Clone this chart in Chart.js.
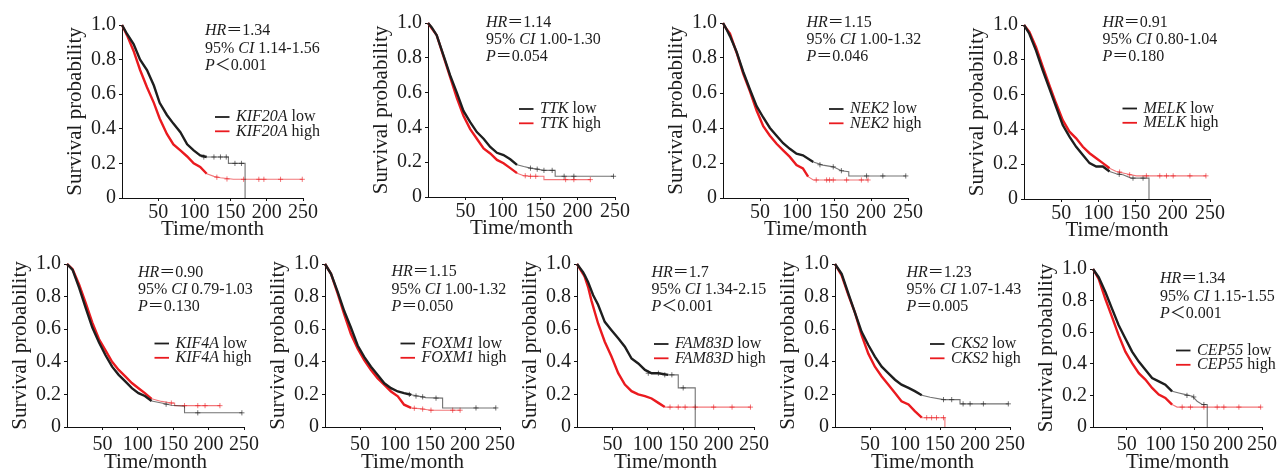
<!DOCTYPE html>
<html>
<head>
<meta charset="utf-8">
<script src="https://cdn.jsdelivr.net/npm/chart.js@4.4.1/dist/chart.umd.min.js"></script>
<style>
  html, body { margin: 0; padding: 0; background: #fff; }
  body { width: 1284px; height: 473px; position: relative; overflow: hidden; }
  canvas { position: absolute; }
</style>
</head>
<body>
<script>
// Kaplan-Meier panels, low vs high expression
const genes = ['KIF20A', 'TTK', 'NEK2', 'MELK', 'KIF4A', 'FOXM1', 'FAM83D', 'CKS2', 'CEP55'];
const hrVals = ['1.34', '1.14', '1.15', '0.91', '0.90', '1.15', '1.7', '1.23', '1.34'];
const ciVals = ['1.14-1.56', '1.00-1.30', '1.00-1.32', '0.80-1.04', '0.79-1.03', '1.00-1.32', '1.34-2.15', '1.07-1.43', '1.15-1.55'];
const pVals = ['＜0.001', '＝0.054', '＝0.046', '＝0.180', '＝0.130', '＝0.050', '＜0.001', '＝0.005', '＜0.001'];

const xTicks = [50, 100, 150, 200, 250];
const yTicks = [0, 0.2, 0.4, 0.6, 0.8, 1.0];
const yTickLabels = ['0', '0.2', '0.4', '0.6', '0.8', '1.0'];

// [month, survival]
const KIF20A_low = [[0,1],[7,0.948],[16,0.89],[25,0.80],[34.5,0.74],[44,0.65],[52,0.55],[62,0.48],[71,0.43],[80.6,0.38],[90,0.31],[99,0.275],[108,0.246],[117,0.237],[147,0.237],[147,0.20],[170,0.20],[170,0]];
const KIF20A_high = [[0,1],[7,0.94],[16,0.85],[25,0.74],[34.5,0.64],[44,0.55],[52,0.46],[62,0.37],[71,0.31],[80.6,0.275],[90,0.24],[99,0.20],[108,0.18],[117,0.14],[127,0.125],[136,0.117],[154,0.108],[249,0.108]];
const KIF20A_low_c = [[113,0.237],[127,0.237],[136,0.237],[144,0.237],[156,0.20],[165,0.20]];
const KIF20A_high_c = [[131,0.12],[145,0.11],[168,0.108],[189,0.108],[196,0.108],[219,0.108],[249,0.108]];

const TTK_low = [[0,1],[5,0.975],[11.6,0.93],[20.6,0.815],[29.5,0.70],[38.5,0.60],[47.4,0.495],[56.4,0.43],[65.3,0.373],[74.3,0.335],[83.2,0.288],[92.2,0.254],[101,0.241],[110,0.217],[119,0.185],[128,0.175],[137,0.166],[146,0.16],[155,0.153],[170,0.153],[170,0.119],[248,0.119]];
const TTK_high = [[0,1],[5,0.97],[11.6,0.93],[20.6,0.81],[29.5,0.69],[38.5,0.57],[47.4,0.467],[56.4,0.39],[65.3,0.335],[74.3,0.279],[83.2,0.25],[92.2,0.213],[101,0.194],[110,0.166],[119,0.137],[128,0.122],[137,0.119],[155,0.119],[155,0.10],[217,0.10]];
const TTK_low_c = [[137,0.166],[146,0.16],[155,0.153],[166,0.153],[182,0.119],[195,0.119],[248,0.119]];
const TTK_high_c = [[130,0.122],[137,0.119],[144,0.119],[184,0.10],[195,0.10],[217,0.10]];

const NEK2_low = [[0,1],[4,0.97],[9.4,0.925],[18.4,0.835],[27.4,0.72],[36.4,0.62],[45.4,0.525],[54.4,0.46],[63.4,0.40],[72.4,0.356],[81.3,0.313],[90.3,0.281],[99.3,0.253],[108,0.244],[122,0.206],[135,0.188],[149,0.178],[160,0.156],[170,0.15],[170,0.126],[247,0.126]];
const NEK2_high = [[0,1],[4,0.97],[9.4,0.94],[18.4,0.83],[27.4,0.71],[36.4,0.61],[45.4,0.50],[54.4,0.41],[63.4,0.356],[72.4,0.31],[81.3,0.272],[90.3,0.235],[99.3,0.188],[108,0.169],[115,0.122],[122,0.103],[196,0.103]];
const NEK2_low_c = [[131,0.19],[149,0.178],[160,0.156],[194,0.126],[216,0.126],[247,0.126]];
const NEK2_high_c = [[126,0.103],[140,0.103],[144,0.103],[149,0.103],[167,0.103],[187,0.103],[196,0.103]];

const MELK_low = [[0,1],[7.2,0.95],[16.2,0.853],[25.2,0.74],[34.2,0.634],[43.1,0.53],[52.1,0.425],[61.1,0.358],[70.1,0.30],[79.1,0.253],[88.1,0.206],[97.1,0.187],[106,0.187],[115,0.158],[124,0.145],[133,0.139],[144,0.12],[168,0.12],[168,0]];
const MELK_high = [[0,1],[7.2,0.96],[16.2,0.872],[25.2,0.76],[34.2,0.653],[43.1,0.55],[52.1,0.453],[61.1,0.387],[70.1,0.349],[79.1,0.30],[88.1,0.263],[97.1,0.234],[106,0.206],[115,0.177],[124,0.158],[133,0.149],[144,0.139],[151,0.133],[244.5,0.133]];
const MELK_low_c = [[128,0.142],[146.5,0.12],[160,0.12]];
const MELK_high_c = [[128.5,0.155],[142,0.139],[164.5,0.133],[182.5,0.133],[191.5,0.133],[200.5,0.133],[223,0.133],[244.5,0.133]];

const KIF4A_low = [[0,1],[7.9,0.964],[17.2,0.853],[26.5,0.73],[35.8,0.61],[45.1,0.52],[54.4,0.44],[63.7,0.37],[73,0.32],[82.3,0.28],[91.6,0.238],[101,0.208],[110,0.19],[119.5,0.16],[133.5,0.147],[147.4,0.133],[166,0.127],[166,0.087],[247,0.087]];
const KIF4A_high = [[0,1],[7.9,0.968],[17.2,0.873],[26.5,0.76],[35.8,0.64],[45.1,0.54],[54.4,0.47],[63.7,0.40],[73,0.35],[82.3,0.31],[91.6,0.27],[101,0.238],[110,0.208],[119.5,0.173],[133.5,0.157],[147.4,0.147],[152,0.147],[152,0.131],[216,0.131]];
const KIF4A_low_c = [[140,0.14],[184.7,0.087],[247,0.087]];
const KIF4A_high_c = [[147.4,0.147],[166,0.131],[184.7,0.131],[195,0.131],[216,0.131]];

const FOXM1_low = [[0,1],[8.6,0.94],[18,0.83],[27.6,0.71],[37,0.61],[46.7,0.50],[56,0.43],[65.7,0.37],[75,0.32],[84.8,0.268],[94.3,0.238],[104,0.218],[113,0.208],[123,0.198],[135,0.188],[144,0.18],[168,0.177],[168,0.117],[244,0.117]];
const FOXM1_high = [[0,1],[8.6,0.94],[18,0.82],[27.6,0.69],[37,0.57],[46.7,0.48],[56,0.41],[65.7,0.35],[75,0.30],[84.8,0.258],[94.3,0.218],[104,0.188],[113,0.137],[123,0.117],[135,0.113],[144,0.107],[151,0.103],[193,0.103]];
const FOXM1_low_c = [[120.5,0.2],[130,0.19],[139.5,0.185],[158.6,0.177],[215.7,0.117],[244,0.117]];
const FOXM1_high_c = [[127.6,0.115],[139.5,0.11],[151.4,0.103],[182.4,0.103],[193,0.103]];

const FAM83D_low = [[0,1],[8.5,0.95],[11,0.93],[15.6,0.89],[22.7,0.81],[29.8,0.75],[39.2,0.645],[48.7,0.594],[58.2,0.544],[67.6,0.493],[77,0.42],[86.5,0.39],[96,0.35],[105.4,0.33],[114.9,0.33],[129,0.32],[143,0.32],[143,0.24],[167,0.24],[167,0]];
const FAM83D_high = [[0,1],[8.5,0.94],[11,0.92],[15.6,0.86],[20.3,0.777],[29.8,0.635],[39.2,0.523],[48.7,0.432],[58.2,0.33],[67.6,0.26],[77,0.22],[86.5,0.20],[96,0.19],[105.4,0.175],[114.9,0.148],[124,0.122],[245,0.122]];
const FAM83D_low_c = [[100.7,0.33],[115,0.33],[124,0.32],[134,0.32],[150,0.24]];
const FAM83D_high_c = [[131.4,0.122],[143,0.122],[152.7,0.122],[167,0.122],[193,0.122],[219,0.122],[245,0.122]];

const CKS2_low = [[0,1],[9.5,0.94],[19,0.82],[28.6,0.70],[38,0.584],[47.6,0.503],[57,0.432],[66.7,0.37],[76,0.33],[85.7,0.29],[95,0.26],[105,0.24],[114,0.22],[124,0.195],[136,0.183],[155,0.168],[178.6,0.168],[178.6,0.142],[247.6,0.142]];
const CKS2_high = [[0,1],[9.5,0.93],[19,0.81],[28.6,0.70],[38,0.564],[47.6,0.45],[57,0.37],[66.7,0.31],[76,0.26],[85.7,0.209],[95,0.158],[105,0.138],[114,0.097],[124,0.057],[157,0.057],[157,0]];
const CKS2_low_c = [[155,0.168],[166.7,0.168],[183,0.142],[193,0.142],[212,0.142],[247.6,0.142]];
const CKS2_high_c = [[131,0.057],[138,0.057],[145,0.057],[155,0.057]];

const CEP55_low = [[0,1],[8.4,0.948],[18.3,0.854],[28.1,0.749],[38,0.644],[47.9,0.56],[57.8,0.477],[67.7,0.414],[77.5,0.362],[87.4,0.31],[97.3,0.289],[107,0.268],[117,0.226],[127,0.215],[137,0.205],[147,0.195],[154,0.163],[161.5,0.142],[169,0.142],[169,0]];
const CEP55_high = [[0,1],[8.4,0.937],[18.3,0.81],[28.1,0.697],[38,0.58],[47.9,0.477],[57.8,0.404],[67.7,0.341],[77.5,0.30],[87.4,0.247],[97.3,0.205],[107,0.184],[117,0.142],[124.4,0.126],[248,0.126]];
const CEP55_low_c = [[139,0.2],[149,0.19],[164,0.142]];
const CEP55_high_c = [[131.9,0.126],[144.2,0.126],[164,0.126],[183.7,0.126],[193.6,0.126],[215.8,0.126],[248,0.126]];

const SERIF = "'Liberation Serif', 'Noto Sans CJK SC', serif";
const TXT = '#1c1c1c';
const BLACK = '#1e1e1e', BLACK_TAIL = 'rgba(40,40,40,0.65)';
const RED = '#ea1a1f', RED_TAIL = 'rgba(234,26,31,0.6)';

// plot box [left, top, right, bottom] in page px, text anchors in page px
const panels = [
  { low: KIF20A_low, high: KIF20A_high, lc: KIF20A_low_c, hc: KIF20A_high_c, box: [122, 24, 303, 198], ann: [205, 31], leg: [215, 117], row: 0 },
  { low: TTK_low, high: TTK_high, lc: TTK_low_c, hc: TTK_high_c, box: [428, 22, 615, 197], ann: [486, 22.5], leg: [519, 109], row: 0 },
  { low: NEK2_low, high: NEK2_high, lc: NEK2_low_c, hc: NEK2_high_c, box: [723, 22, 908, 198], ann: [806.5, 22.5], leg: [829, 109], row: 0 },
  { low: MELK_low, high: MELK_high, lc: MELK_low_c, hc: MELK_high_c, box: [1024, 24, 1210, 199], ann: [1102.5, 22.5], leg: [1122.5, 108.5], row: 0 },
  { low: KIF4A_low, high: KIF4A_high, lc: KIF4A_low_c, hc: KIF4A_high_c, box: [67, 263, 244, 427], ann: [138, 272.3], leg: [154.5, 343.5], row: 1 },
  { low: FOXM1_low, high: FOXM1_high, lc: FOXM1_low_c, hc: FOXM1_high_c, box: [325, 263, 500, 427], ann: [391.5, 272], leg: [400.5, 343.5], row: 1 },
  { low: FAM83D_low, high: FAM83D_high, lc: FAM83D_low_c, hc: FAM83D_high_c, box: [577, 263, 754, 427], ann: [651.5, 272.3], leg: [654, 344], row: 1 },
  { low: CKS2_low, high: CKS2_high, lc: CKS2_low_c, hc: CKS2_high_c, box: [835, 263, 1010, 427], ann: [906.5, 272.3], leg: [930, 344], row: 1 },
  { low: CEP55_low, high: CEP55_high, lc: CEP55_low_c, hc: CEP55_high_c, box: [1093, 268, 1262, 427], ann: [1160, 279], leg: [1176, 350.5], row: 1 }
];

function rich(ctx, x, y, parts, size) {
  parts.forEach(([s, it]) => {
    ctx.font = (it ? 'italic ' : '') + size + 'px ' + SERIF;
    ctx.fillText(s, x, y);
    x += ctx.measureText(s).width;
  });
}

function curve(pts, col, tail) {
  return {
    data: pts.map(([x, y]) => ({ x, y })),
    borderColor: col, borderWidth: 2.4, pointRadius: 0, tension: 0, fill: false, clip: 6,
    segment: {
      borderWidth: c => c.p0.parsed.x >= 115 ? 1.1 : 2.4,
      borderColor: c => c.p0.parsed.x >= 115 ? tail : col
    }
  };
}

function cens(pts, col) {
  return {
    type: 'scatter', data: pts.map(([x, y]) => ({ x, y })), showLine: false,
    pointStyle: 'cross', pointRadius: 2.6, pointBorderWidth: 1, borderColor: col, backgroundColor: col, clip: 6
  };
}

panels.forEach((p, i) => {
  const yw = 57, padTop = 12, padRight = 30;
  const xh = p.row === 0 ? 42 : 46;
  const [L, T, R, B] = p.box;
  const left = L - yw, top = T - padTop;
  const w = R - L + yw + padRight, h = B - T + padTop + xh;
  const cv = document.createElement('canvas');
  cv.width = w; cv.height = h;
  cv.style.left = left + 'px'; cv.style.top = top + 'px';
  cv.style.width = w + 'px'; cv.style.height = h + 'px';
  document.body.appendChild(cv);

  const textPlugin = {
    id: 'kmText',
    afterDraw(chart) {
      const ctx = chart.ctx;
      ctx.save();
      ctx.fillStyle = TXT;
      ctx.textBaseline = 'middle';
      ctx.textAlign = 'left';
      const ax = p.ann[0] - left, ay = p.ann[1] - top;
      rich(ctx, ax, ay, [['HR', true], ['＝' + hrVals[i], false]], 16);
      rich(ctx, ax, ay + 17.3, [['95% ', false], ['CI', true], [' ' + ciVals[i], false]], 16);
      rich(ctx, ax, ay + 34.6, [['P', true], [pVals[i], false]], 16);
      const lx = p.leg[0] - left, ly = p.leg[1] - top;
      [[BLACK, ' low'], [RED, ' high']].forEach(([c, s], k) => {
        const yy = ly + k * 14.3;
        ctx.strokeStyle = c; ctx.lineWidth = 1.8;
        ctx.beginPath(); ctx.moveTo(lx, yy); ctx.lineTo(lx + 14.5, yy); ctx.stroke();
        rich(ctx, lx + 21, yy, [[genes[i], true], [s, false]], 16);
      });
      ctx.restore();
    }
  };

  new Chart(cv, {
    type: 'line',
    data: {
      datasets: [
        curve(p.low, BLACK, BLACK_TAIL), curve(p.high, RED, RED_TAIL),
        cens(p.lc, BLACK_TAIL), cens(p.hc, RED_TAIL)
      ]
    },
    options: {
      responsive: false, animation: false, devicePixelRatio: 1,
      layout: { padding: { top: padTop, right: padRight, left: 0, bottom: 0 } },
      plugins: { legend: { display: false }, tooltip: { enabled: false } },
      scales: {
        x: {
          type: 'linear', min: 0, max: 250,
          afterBuildTicks: s => { s.ticks = xTicks.map(v => ({ value: v })); },
          afterFit: s => { s.height = xh; },
          grid: { display: true, drawOnChartArea: false, drawTicks: true, tickLength: 3, color: '#111' },
          border: { display: true, color: '#111', width: 1 },
          ticks: { color: TXT, font: { family: SERIF, size: 20, lineHeight: 1 }, padding: p.row === 0 ? 2 : 5, maxRotation: 0, autoSkip: false },
          title: { display: true, text: 'Time/month', color: TXT, font: { family: SERIF, size: 21, lineHeight: 1 }, padding: 0 }
        },
        y: {
          type: 'linear', min: 0, max: 1,
          afterBuildTicks: s => { s.ticks = yTicks.map(v => ({ value: v })); },
          afterFit: s => { s.width = yw; },
          grid: { display: true, drawOnChartArea: false, drawTicks: true, tickLength: 3, color: '#111' },
          border: { display: true, color: '#111', width: 1 },
          ticks: { color: TXT, font: { family: SERIF, size: 20, lineHeight: 1 }, padding: 3, autoSkip: false,
            callback: v => yTickLabels[yTicks.indexOf(v)] },
          title: { display: true, text: 'Survival probability', color: TXT, font: { family: SERIF, size: 21, lineHeight: 1 }, padding: 0 }
        }
      }
    },
    plugins: [textPlugin]
  });
});
</script>
</body>
</html>
